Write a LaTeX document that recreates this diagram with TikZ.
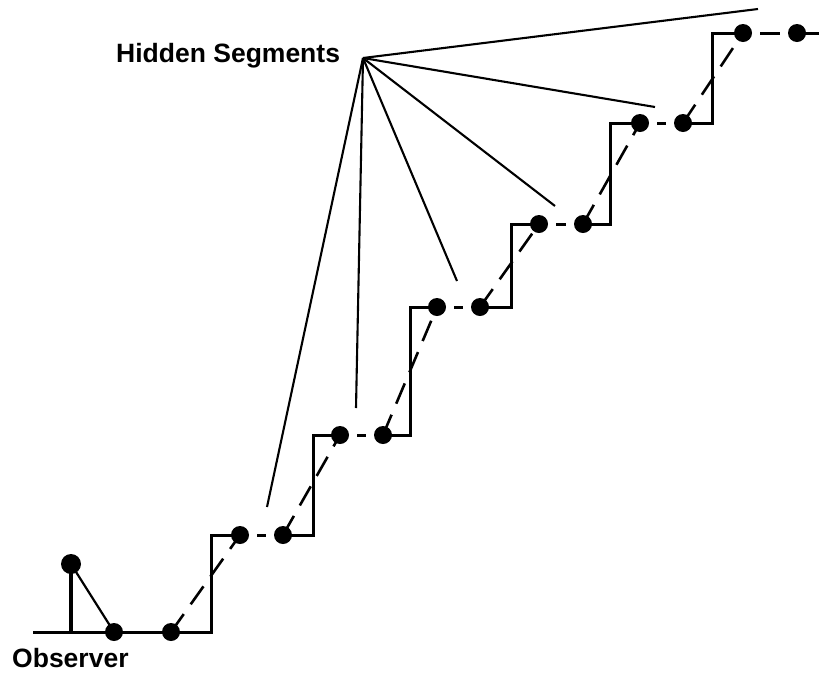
\documentclass[tikz,border=0pt]{standalone}
\usepackage{fontspec}
\setmainfont{Liberation Sans}
\begin{document}
\begin{tikzpicture}[x=1pt,y=-1pt,
  dot/.style={circle,fill=black,inner sep=0pt,minimum size=18pt},
  stair/.style={line width=3pt,line join=miter},
  ray/.style={line width=2.1pt},
  gap/.style={line width=3pt,shorten <=8pt,shorten >=8pt},
  slope/.style={line width=2.6pt,dash pattern=on 22pt off 12pt},
  lbl/.style={font=\fontsize{26.5}{30}\selectfont\bfseries,inner sep=0pt}]
\useasboundingbox[fill=white] (0,0) rectangle (819,673);
% dots
\node[dot,minimum width=17pt,minimum height=20pt] (o0) at (71,564) {};
\node[dot] (a0) at (114,632) {};
\node[dot] (b0) at (171,632) {};
\node[dot] (a1) at (240,535) {};
\node[dot] (b1) at (283,535) {};
\node[dot] (a2) at (340,435) {};
\node[dot] (b2) at (383,435) {};
\node[dot] (a3) at (437,307) {};
\node[dot] (b3) at (480,307) {};
\node[dot] (a4) at (539,224) {};
\node[dot] (b4) at (583,224) {};
\node[dot] (a5) at (640,123) {};
\node[dot] (b5) at (683,123) {};
\node[dot] (a6) at (743,33) {};
\node[dot] (b6) at (797,33) {};
\coordinate (g0) at (33,632);
\coordinate (pole) at (71,632);
\coordinate (gend) at (819,33);
% labels
\node[lbl,anchor=base west] (hs) at (116,62) {Hidden Segments};
\node[lbl,anchor=base west] (obs) at (12,667) {Observer};
% observer
\draw[line width=3.2pt] (pole) -- (o0.center);
\draw[line width=2.2pt] (o0.center) -- (a0.center);
% staircase (solid parts)
\draw[stair] (g0) -- (211,632) -- (211,535) -- (a1.center);
\draw[stair] (b1.center) -- (313,535) -- (313,435) -- (a2.center);
\draw[stair] (b2.center) -- (410,435) -- (410,307) -- (a3.center);
\draw[stair] (b3.center) -- (511,307) -- (511,224) -- (a4.center);
\draw[stair] (b4.center) -- (610,224) -- (610,123) -- (a5.center);
\draw[stair] (b5.center) -- (712,123) -- (712,33) -- (a6.center);
\draw[stair] (b6.center) -- (gend);
% dashed parts between dots
\foreach \i in {1,...,6}{\draw[gap] (a\i) -- (b\i);}
\draw[slope] (b0.center) -- (a1.center);
\draw[slope] (b1.center) -- (a2.center);
\draw[slope] (b2.center) -- (a3.center);
\draw[slope] (b3.center) -- (a4.center);
\draw[slope] (b4.center) -- (a5.center);
\draw[slope] (b5.center) -- (a6.center);
% hidden segment rays
\coordinate (src) at (363,58);
\coordinate (r1) at (758,9);
\coordinate (r2) at (655,107);
\coordinate (r3) at (555,206);
\coordinate (r4) at (457,281);
\coordinate (r5) at (356,408);
\coordinate (r6) at (267,507);
\foreach \j in {1,...,6}{\draw[ray] (src) -- (r\j);}
\end{tikzpicture}
\end{document}
